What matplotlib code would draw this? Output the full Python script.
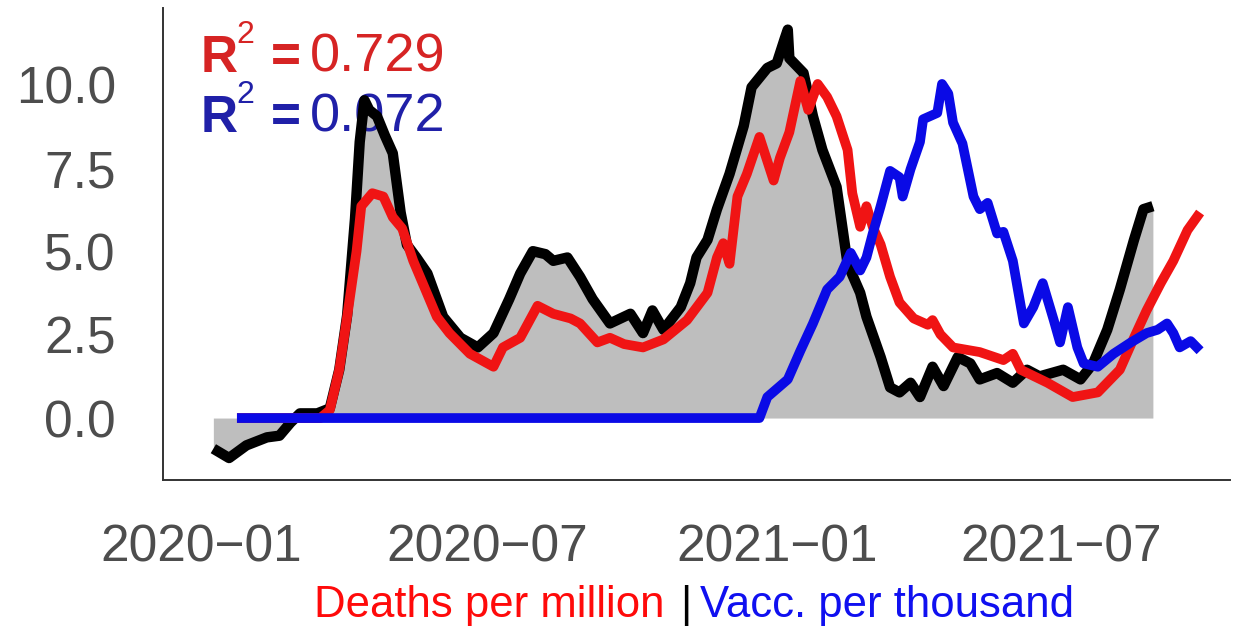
import matplotlib
matplotlib.use("Agg")
import matplotlib.pyplot as plt
import pandas as pd

# ---------------- data ----------------
black_dates = ["2020-01-09", "2020-01-19", "2020-01-30", "2020-02-12", "2020-02-20", "2020-02-27",
               "2020-03-04", "2020-03-15", "2020-03-23", "2020-03-29", "2020-04-03", "2020-04-08",
               "2020-04-11", "2020-04-14", "2020-04-17", "2020-04-22", "2020-04-27", "2020-05-02",
               "2020-05-07", "2020-05-11", "2020-05-17", "2020-05-24", "2020-06-03", "2020-06-14",
               "2020-06-25", "2020-07-05", "2020-07-15", "2020-07-22", "2020-07-30", "2020-08-07",
               "2020-08-12", "2020-08-21", "2020-08-29", "2020-09-06", "2020-09-17", "2020-09-30",
               "2020-10-08", "2020-10-14", "2020-10-21", "2020-11-01", "2020-11-07", "2020-11-11",
               "2020-11-18", "2020-11-24", "2020-12-02", "2020-12-11", "2020-12-16", "2020-12-26",
               "2021-01-01", "2021-01-06", "2021-01-08", "2021-01-09", "2021-01-18", "2021-01-24",
               "2021-01-30", "2021-02-08", "2021-02-15", "2021-02-23", "2021-02-27", "2021-03-08",
               "2021-03-14", "2021-03-20", "2021-03-27", "2021-04-02", "2021-04-10", "2021-04-17",
               "2021-04-26", "2021-05-04", "2021-05-10", "2021-05-21", "2021-05-31", "2021-06-09",
               "2021-06-17", "2021-07-02", "2021-07-13", "2021-07-21", "2021-07-30", "2021-08-07",
               "2021-08-16", "2021-08-22", "2021-08-28"]
black_values = [-0.92, -1.20, -0.82, -0.58, -0.53, -0.14,
                0.14, 0.14, 0.29, 1.45, 3.08, 5.98,
                8.29, 9.54, 9.25, 9.06, 8.48, 7.95,
                6.17, 5.20, 4.82, 4.34, 3.04, 2.41,
                2.12, 2.55, 3.57, 4.34, 5.01, 4.92,
                4.72, 4.82, 4.24, 3.57, 2.84, 3.13,
                2.55, 3.23, 2.65, 3.33, 4.05, 4.82,
                5.35, 6.27, 7.33, 8.77, 9.93, 10.51,
                10.65, 11.38, 11.66, 10.80, 10.36, 9.06,
                8.05, 6.94, 4.63, 3.76, 3.04, 1.83,
                0.92, 0.77, 1.06, 0.63, 1.54, 0.96,
                1.83, 1.64, 1.16, 1.35, 1.06, 1.45,
                1.25, 1.45, 1.16, 1.64, 2.65, 3.86,
                5.35, 6.27, 6.36]

red_dates = ["2020-01-24", "2020-03-17", "2020-03-23", "2020-03-29", "2020-04-03", "2020-04-09",
             "2020-04-12", "2020-04-19", "2020-04-26", "2020-05-02", "2020-05-08", "2020-05-15",
             "2020-05-21", "2020-05-30", "2020-06-07", "2020-06-20", "2020-07-05", "2020-07-11",
             "2020-07-22", "2020-08-02", "2020-08-12", "2020-08-23", "2020-08-29", "2020-09-09",
             "2020-09-17", "2020-09-26", "2020-10-08", "2020-10-21", "2020-11-05", "2020-11-18",
             "2020-11-24", "2020-11-28", "2020-12-02", "2020-12-07", "2020-12-13", "2020-12-21",
             "2020-12-30", "2021-01-03", "2021-01-09", "2021-01-16", "2021-01-21", "2021-01-27",
             "2021-02-02", "2021-02-08", "2021-02-15", "2021-02-18", "2021-02-23", "2021-02-27",
             "2021-03-03", "2021-03-08", "2021-03-14", "2021-03-20", "2021-03-29", "2021-04-07",
             "2021-04-10", "2021-04-15", "2021-04-23", "2021-05-10", "2021-05-25", "2021-05-31",
             "2021-06-05", "2021-06-22", "2021-07-08", "2021-07-24", "2021-08-07", "2021-08-16",
             "2021-08-24", "2021-09-02", "2021-09-10", "2021-09-19", "2021-09-27"]
red_values = [0.00, 0.00, 0.24, 1.45, 3.04, 5.01,
              6.36, 6.75, 6.65, 6.03, 5.69, 4.72,
              4.05, 3.04, 2.55, 1.93, 1.54, 2.12,
              2.41, 3.37, 3.13, 2.99, 2.84, 2.27,
              2.41, 2.22, 2.12, 2.36, 2.94, 3.76,
              4.82, 5.25, 4.63, 6.65, 7.33, 8.44,
              7.13, 7.81, 8.58, 10.12, 9.25, 10.03,
              9.64, 9.06, 8.05, 6.75, 5.74, 6.36,
              5.74, 5.21, 4.24, 3.47, 2.99, 2.80,
              2.94, 2.51, 2.12, 1.98, 1.74, 1.93,
              1.45, 1.06, 0.63, 0.77, 1.45, 2.41,
              3.23, 4.05, 4.72, 5.64, 6.17]

blue_dates = ["2020-01-24", "2020-12-21", "2020-12-26", "2021-01-08", "2021-01-16", "2021-01-24",
              "2021-02-02", "2021-02-10", "2021-02-17", "2021-02-23", "2021-02-27", "2021-03-03",
              "2021-03-08", "2021-03-14", "2021-03-20", "2021-03-22", "2021-03-27", "2021-04-02",
              "2021-04-04", "2021-04-13", "2021-04-16", "2021-04-20", "2021-04-23", "2021-04-29",
              "2021-05-06", "2021-05-10", "2021-05-15", "2021-05-21", "2021-05-25", "2021-05-31",
              "2021-06-07", "2021-06-13", "2021-06-19", "2021-06-26", "2021-06-30", "2021-07-05",
              "2021-07-11", "2021-07-15", "2021-07-24", "2021-08-03", "2021-08-14", "2021-08-24",
              "2021-08-31", "2021-09-06", "2021-09-10", "2021-09-14", "2021-09-21", "2021-09-27"]
blue_values = [0.00, 0.00, 0.63, 1.16, 2.02, 2.84,
               3.86, 4.24, 4.96, 4.43, 4.82, 5.54,
               6.36, 7.42, 7.23, 6.65, 7.47, 8.29,
               8.97, 9.16, 10.03, 9.74, 8.87, 8.24,
               6.65, 6.27, 6.46, 5.54, 5.59, 4.72,
               2.84, 3.33, 4.05, 2.94, 2.27, 3.33,
               2.12, 1.64, 1.54, 1.93, 2.27, 2.55,
               2.65, 2.84, 2.55, 2.12, 2.31, 2.02]

x_tick_dates = ["2020-01-01", "2020-07-01", "2021-01-01", "2021-07-01"]
x_tick_labels = ["2020\u221201", "2020\u221207", "2021\u221201", "2021\u221207"]
y_ticks = [0.0, 2.5, 5.0, 7.5, 10.0]
y_tick_labels = ["0.0", "2.5", "5.0", "7.5", "10.0"]

r2_deaths = "0.729"
r2_vacc = "0.072"

# ---------------- figure ----------------
plt.rcParams['font.family'] = ['Liberation Sans', 'DejaVu Sans']
W, H = 1233, 630
fig = plt.figure(figsize=(W / 100, H / 100), dpi=100)
ax = fig.add_axes([163 / W, (H - 480) / H, (1230 - 163) / W, (480 - 8) / H])

bx = pd.to_datetime(black_dates)
rx = pd.to_datetime(red_dates)
ux = pd.to_datetime(blue_dates)

ax.fill_between(bx, 0, black_values, color='#bebebe', linewidth=0, zorder=1)
ax.plot(bx, black_values, color='black', lw=7.5, solid_joinstyle='round', solid_capstyle='butt', zorder=2)
ax.plot(rx, red_values, color='#f01414', lw=7, solid_joinstyle='round', solid_capstyle='butt', zorder=3)
ax.plot(ux, blue_values, color='#0a0ae6', lw=7, solid_joinstyle='round', solid_capstyle='butt', zorder=4)

ax.set_xlim(pd.Timestamp("2019-12-08"), pd.Timestamp("2021-10-16"))
ax.set_ylim(-1.86, 12.31)

ax.set_xticks(pd.to_datetime(x_tick_dates))
ax.set_xticklabels(x_tick_labels)
ax.set_yticks(y_ticks)
ax.set_yticklabels(y_tick_labels)
ax.tick_params(axis='both', length=0, labelsize=37, labelcolor='#4d4d4d')
ax.tick_params(axis='y', pad=34)
ax.tick_params(axis='x', pad=31)

for s in ['top', 'right']:
    ax.spines[s].set_visible(False)
for s in ['left', 'bottom']:
    ax.spines[s].set_color('#333333')
    ax.spines[s].set_linewidth(1.4)
ax.set_facecolor('white')


def fpos(x, y):
    return x / W, 1 - y / H


red_txt = '#d62424'
blue_txt = '#2020a8'
for (base, col, val) in [(72, red_txt, r2_deaths), (132, blue_txt, r2_vacc)]:
    ax.text(*fpos(201, base), "R", transform=fig.transFigure, color=col, fontsize=37,
            fontweight='bold', ha='left', va='baseline', zorder=1.5)
    ax.text(*fpos(236, base - 29), "2", transform=fig.transFigure, color=col, fontsize=23,
            ha='left', va='baseline', zorder=1.5)
    ax.text(*fpos(271, base), "=", transform=fig.transFigure, color=col, fontsize=37,
            fontweight='bold', ha='left', va='baseline', zorder=1.5)
    ax.text(*fpos(310, base), val, transform=fig.transFigure, color=col, fontsize=39,
            ha='left', va='baseline', zorder=1.5)

fig.text(*fpos(314, 617), "Deaths per million", color='#ff0a0a', fontsize=31.5, ha='left', va='baseline')
fig.text(*fpos(686, 617), "|", color='black', fontsize=31.5, ha='center', va='baseline')
fig.text(*fpos(700, 617), "Vacc. per thousand", color='#1010f0', fontsize=31.5, ha='left', va='baseline')

fig.savefig("out.png", dpi=100, facecolor='white')
